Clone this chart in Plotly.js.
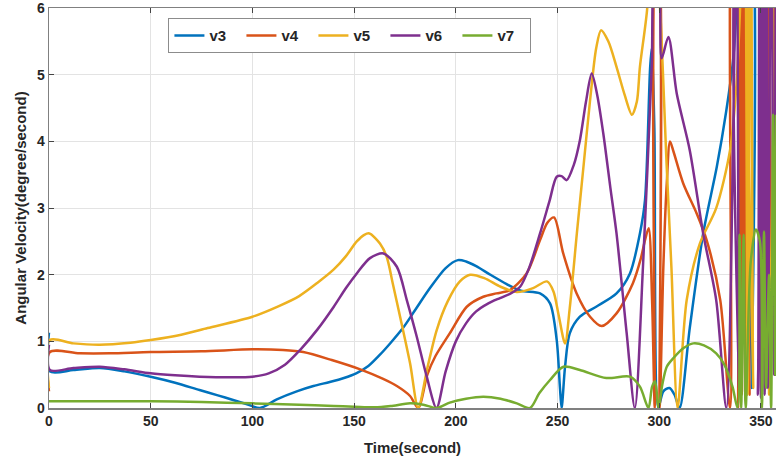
<!DOCTYPE html>
<html>
<head>
<meta charset="utf-8">
<script src="https://cdn.plot.ly/plotly-3.0.1.min.js"></script>
<style>html,body{margin:0;padding:0;background:#fff;}#chart{width:776px;height:464px;}</style>
</head>
<body>
<div id="chart"></div>
<script>
// Series names
const seriesNames = ['v3', 'v4', 'v5', 'v6', 'v7'];
const xTicks = [0, 50, 100, 150, 200, 250, 300, 350];
const yTicks = [0, 1, 2, 3, 4, 5, 6];

// v3 (blue)
const t3 = [0, 0.4, 12, 25, 37, 50, 62, 74, 83, 90.5, 97, 103.7, 112, 121.8, 130, 138, 145, 151, 157, 162.7, 168, 174, 180, 187.3, 195, 201, 205, 210, 217, 225, 232, 241.4, 246.3, 249.6, 251.2, 252, 253.7, 256, 261, 269, 279, 285.6, 290.5, 293, 295.5, 296.3, 297.6, 299.5, 302, 305, 307.5, 310, 315, 321.6, 328.3, 333, 336.3, 338, 340, 343.5, 345.5, 347.5, 352, 354.5, 356, 357.5];
const v3 = [1.13, 0.55, 0.57, 0.6, 0.55, 0.47, 0.38, 0.27, 0.19, 0.12, 0.06, 0, 0.13, 0.25, 0.33, 0.39, 0.45, 0.52, 0.63, 0.8, 0.98, 1.2, 1.47, 1.8, 2.1, 2.22, 2.2, 2.13, 2.0, 1.86, 1.76, 1.72, 1.57, 1.02, 0.3, 0, 0.62, 1.12, 1.37, 1.52, 1.72, 2.02, 2.62, 3.12, 5.1, 5.4, 4.2, 0, 0.25, 0.3, 0.2, 0, 1.2, 2.62, 3.62, 4.47, 5.22, 6.0, 8, 8, 0.3, 8, 8, 0.4, 8, 8];

// v4 (orange)
const t4 = [0, 0.4, 15, 30, 50, 75, 100, 115, 125, 139, 153, 164, 171, 177.5, 181.5, 186, 190, 197, 205.4, 213.5, 220, 226.6, 234.8, 241.4, 245, 248.3, 252.8, 259.4, 266, 271.7, 279, 287, 291, 293, 294.8, 296.5, 297.8, 298.6, 299.4, 300.2, 302, 303.7, 305.3, 307, 311.8, 318.4, 323.3, 330, 334.8, 336.5, 337.5, 338.8, 339.7, 340.6, 341.5, 342.5, 343.3, 344.4, 345.5, 350, 352, 353, 355.5, 357.5];
const v4 = [0.25, 0.84, 0.82, 0.82, 0.84, 0.85, 0.88, 0.87, 0.84, 0.72, 0.58, 0.44, 0.33, 0.18, 0, 0.5, 0.78, 1.12, 1.52, 1.67, 1.72, 1.77, 2.02, 2.52, 2.78, 2.86, 2.32, 1.72, 1.37, 1.23, 1.42, 1.87, 2.25, 2.52, 2.7, 1.6, 0, 7, 7, 0, 2.1, 3.37, 4.0, 3.85, 3.37, 2.92, 2.52, 1.62, 0, 8, 8, 0, 8, 0.2, 8, 0.1, 8, 0.2, 8, 8, 0.3, 8, 1.5, 8];

// v5 (yellow)
const t5 = [0, 0.4, 12, 25, 40, 50, 65, 78, 100, 113, 123, 132, 140, 146, 151.3, 155, 157.5, 162.7, 166, 169, 172.6, 177.5, 181.5, 186, 190.6, 196, 202, 207, 214, 222, 230, 238, 244.8, 248, 250.5, 253.7, 256, 259.5, 263, 266, 269, 271.4, 275, 279, 283, 286.6, 289, 290.5, 294, 296, 298, 300.4, 303.7, 306, 309, 313.5, 320, 328, 334.8, 338, 340, 342, 343.5, 345, 346.2, 347.5, 352, 354, 355.5, 357.5];
const v5 = [0.3, 1.02, 0.97, 0.95, 0.98, 1.02, 1.1, 1.2, 1.37, 1.53, 1.68, 1.88, 2.08, 2.28, 2.5, 2.6, 2.62, 2.47, 2.27, 1.87, 1.37, 0.67, 0, 0.6, 1.17, 1.6, 1.9, 2.0, 1.95, 1.82, 1.74, 1.8, 1.9, 1.75, 1.4, 0.97, 1.5, 2.62, 3.7, 4.62, 5.4, 5.67, 5.5, 5.12, 4.7, 4.4, 4.6, 5.12, 5.97, 7, 7, 6.0, 3.6, 2.1, 0, 1.62, 2.47, 3.0, 3.87, 4.87, 6.2, 8, 0.2, 8, 0.3, 8, 8, 0.2, 8, 8];

// v6 (purple)
const t6 = [0, 0.4, 12, 25, 37, 50, 62, 74, 90, 100, 108, 116, 123.4, 132, 140, 146, 151.3, 157.8, 164.4, 171, 175.9, 180.8, 185.7, 190.5, 195, 200, 205, 210, 216, 221.7, 227, 231.6, 236, 241.4, 246, 249.6, 252, 254.5, 258, 261, 264, 266.8, 269.5, 272.5, 276, 279, 284, 288, 292, 296.3, 298, 299.5, 301.2, 304.5, 308.6, 315, 321.6, 328, 333, 338, 339.2, 340.5, 346, 348.5, 349.3, 350, 351, 351.8, 352.7, 353.4, 355, 356.5, 357.5];
const v6 = [0.95, 0.57, 0.6, 0.62, 0.58, 0.52, 0.49, 0.47, 0.46, 0.47, 0.52, 0.65, 0.87, 1.18, 1.52, 1.8, 2.02, 2.25, 2.32, 2.12, 1.62, 1.07, 0.47, 0, 0.55, 1.0, 1.27, 1.45, 1.57, 1.65, 1.72, 1.82, 2.1, 2.62, 3.1, 3.47, 3.48, 3.42, 3.65, 4.02, 4.6, 5.02, 4.7, 4.12, 3.3, 2.62, 1.12, 0, 2.12, 5.12, 6.5, 6.5, 5.25, 5.57, 4.72, 3.87, 2.62, 1.62, 0, 7, 0.3, 8, 8, 0.2, 8, 0.15, 8, 0.2, 8, 0.3, 8, 0.5, 8];

// v7 (green)
const t7 = [0, 10, 30, 50, 75, 100, 123, 140, 150, 160, 168, 177.5, 184, 190.7, 197, 205, 213.5, 222, 230, 236.5, 241, 246.3, 252.9, 261, 274, 285.6, 290.5, 294.7, 296.5, 298, 299.6, 301.5, 303.7, 307, 312, 316.7, 322, 328, 332, 336, 338.5, 339.5, 340.3, 341.5, 342.5, 345, 347.5, 349.5, 350.5, 351.5, 352.5, 354, 355, 356, 357, 357.5];
const v7 = [0.1, 0.1, 0.1, 0.1, 0.09, 0.07, 0.05, 0.03, 0.02, 0.01, 0.03, 0.07, 0.05, 0, 0.08, 0.14, 0.17, 0.14, 0.07, 0, 0.22, 0.42, 0.62, 0.57, 0.45, 0.47, 0.32, 0, 0.32, 0.4, 0, 0.35, 0.62, 0.75, 0.9, 0.97, 0.94, 0.82, 0.65, 0.32, 0, 2.6, 0, 2.6, 0, 2.2, 2.68, 2.5, 0, 2.65, 0.3, 2.0, 0, 4.4, 0.5, 4.4];

const colors = ['#0072BD', '#D95319', '#EDB120', '#7E2F8E', '#77AC30'];
const xs = [t3, t4, t5, t6, t7];
const ys = [v3, v4, v5, v6, v7];

const traces = seriesNames.map((n, i) => ({
  x: xs[i], y: ys[i], name: n, type: 'scatter', mode: 'lines',
  line: {color: colors[i], width: 2.5, shape: 'spline', smoothing: 0.8}
}));

const FAM = 'Liberation Sans, Arial, sans-serif';
const axisFont = {family: FAM, size: 14, color: '#262626', weight: 'bold'};
const layout = {
  width: 776, height: 464,
  margin: {l: 49, r: 0, t: 8, b: 56},
  paper_bgcolor: '#ffffff', plot_bgcolor: '#ffffff',
  font: {family: FAM, color: '#262626'},
  showlegend: true,
  xaxis: {
    range: [0, 357.4], tickvals: xTicks, ticktext: xTicks.map(String),
    ticks: 'inside', ticklen: 5, tickcolor: '#444', tickwidth: 1,
    showline: true, linecolor: '#808080', linewidth: 1.5, mirror: 'ticks',
    showgrid: true, gridcolor: '#e3e3e3', gridwidth: 1, zeroline: false,
    tickfont: axisFont, automargin: false,
    title: {text: 'Time(second)', font: {family: FAM, size: 15, color: '#262626', weight: 'bold'}, standoff: 14}
  },
  yaxis: {
    range: [0, 6.004], tickvals: yTicks, ticktext: yTicks.map(String),
    ticks: 'inside', ticklen: 5, tickcolor: '#444', tickwidth: 1,
    showline: true, linecolor: '#808080', linewidth: 1.5, mirror: false,
    showgrid: true, gridcolor: '#e3e3e3', gridwidth: 1, zeroline: false,
    tickfont: axisFont, automargin: false, ticklabeloverflow: 'allow',
    title: {text: 'Angular Velocity(degree/second)', font: {family: FAM, size: 15, color: '#262626', weight: 'bold'}, standoff: 6}
  },
  legend: {
    orientation: 'h', x: 0.164, y: 0.975, xanchor: 'left', yanchor: 'top',
    bgcolor: '#ffffff', bordercolor: '#8c8c8c', borderwidth: 1.2,
    font: {family: FAM, size: 15, color: '#262626', weight: 'bold'},
    entrywidth: 27, entrywidthmode: 'pixels', tracegroupgap: 0
  }
};

Plotly.newPlot('chart', traces, layout, {displayModeBar: false, staticPlot: true});
</script>
</body>
</html>
